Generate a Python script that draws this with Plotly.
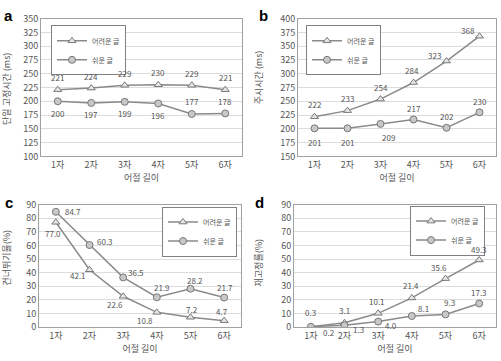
import plotly.graph_objects as go

categories = ["1자", "2자", "3자", "4자", "5자", "6자"]
series_names = ["어려운 글", "쉬운 글"]

a_hard = [221, 224, 229, 230, 229, 221]
a_easy = [200, 197, 199, 196, 177, 178]
b_hard = [222, 233, 254, 284, 323, 368]
b_easy = [201, 201, 209, 217, 202, 230]
c_hard = [77.0, 42.1, 22.6, 10.8, 7.2, 4.7]
c_easy = [84.7, 60.3, 36.5, 21.9, 28.2, 21.7]
d_hard = [0.3, 3.1, 10.1, 21.4, 35.6, 49.3]
d_easy = [0.2, 1.3, 4.0, 8.1, 9.3, 17.3]

panel_letters = ["a", "b", "c", "d"]
y_titles = ["단일 고정시간 (ms)", "주시시간 (ms)", "건너뛰기율(%)", "재고정률(%)"]
x_title = "어절 길이"
y_ranges = [(100, 350, 25), (150, 400, 25), (0, 90, 10), (0, 90, 10)]
decimals = [0, 0, 1, 1]

# label offsets in pixels (style)
off_a_hard = [(0, 12)] * 6
off_a_easy = [(0, -12), (0, -12), (0, -12), (0, -12), (0, 12), (0, 12)]
off_b_hard = [(0, 12), (0, 12), (0, 12), (-2, 12), (-12, 6), (-12, 6)]
off_b_easy = [(0, -14), (0, -14), (8, -14), (0, 11), (0, 11), (0, 11)]
off_c_hard = [(-3, -11), (-12, -6), (-8, -8), (-12, -8), (1, 8), (-2, 9)]
off_c_easy = [(17, 0), (15, 4), (13, 5), (5, 10), (4, 8), (1, 10)]
off_d_hard = [(0, 14), (0, 12), (-1, 12), (-1, 12), (-7, 11), (0, 10)]
off_d_easy = [(18, -6), (14, -4), (13, -4), (12, 8), (4, 12), (0, 11)]

panels = [
    (a_hard, a_easy, off_a_hard, off_a_easy),
    (b_hard, b_easy, off_b_hard, off_b_easy),
    (c_hard, c_easy, off_c_hard, off_c_easy),
    (d_hard, d_easy, off_d_hard, off_d_easy),
]

W, H = 501, 361
# plot boxes in pixels (left, right, top, bottom)
boxes = [(41, 242, 12, 155), (298, 496, 12, 155), (39, 241, 205, 332), (294, 496, 205, 332)]
legend_pos = [(51, 19, "left"), (306, 19, "left"), (237, 207, "right"), (485, 206, "right")]
letter_pos = [(2, 9), (257, 9), (3, 203), (253, 203)]
ytitle_pos = [(7, 85), (258, 73), (7, 260), (258, 265)]

LINE = "#8a8a8a"
TXT = "#555555"
FONT = "Noto Sans CJK KR, Liberation Sans, sans-serif"

fig = go.Figure()
layout = dict(
    width=W, height=H, margin=dict(l=0, r=0, t=0, b=0),
    paper_bgcolor="white", plot_bgcolor="white",
    font=dict(family=FONT, size=9, color=TXT),
)
annotations = []

for i, (hard, easy, oh, oe) in enumerate(panels):
    n = "" if i == 0 else str(i + 1)
    xa, ya = "x" + n, "y" + n
    lg = "legend" + n
    l, r, t, b = boxes[i]
    lo, hi, dt = y_ranges[i]
    layout["xaxis" + n] = dict(
        domain=[l / W, r / W], anchor=ya, type="category",
        categoryorder="array", categoryarray=categories,
        range=[-0.5, 5.5], showline=True, mirror=True, linecolor="#a0a0a0",
        linewidth=1, showgrid=False, ticks="", tickfont=dict(size=9, color=TXT),
        title=dict(text=x_title, font=dict(size=9, color=TXT), standoff=1),
    )
    layout["yaxis" + n] = dict(
        domain=[1 - b / H, 1 - t / H], anchor=xa, range=[lo, hi], dtick=dt,
        tick0=lo, showline=True, mirror=True, linecolor="#a0a0a0", linewidth=1,
        showgrid=True, gridcolor="#dcdcdc", gridwidth=1, zeroline=False,
        ticks="", tickfont=dict(size=9, color=TXT),
    )
    lx, ly, anc = legend_pos[i]
    layout[lg] = dict(
        x=lx / W, y=1 - ly / H, xanchor=anc, yanchor="top",
        bgcolor="white", bordercolor="#808080", borderwidth=1,
        font=dict(size=7, color=TXT), itemwidth=30, tracegroupgap=0,
    )
    fig.add_trace(go.Scatter(
        x=categories, y=hard, name=series_names[0], mode="lines+markers",
        xaxis=xa, yaxis=ya, legend=lg,
        line=dict(color=LINE, width=1.5),
        marker=dict(symbol="triangle-up", size=7, color="#e6e6e6",
                    line=dict(color="#777777", width=1)),
    ))
    fig.add_trace(go.Scatter(
        x=categories, y=easy, name=series_names[1], mode="lines+markers",
        xaxis=xa, yaxis=ya, legend=lg,
        line=dict(color=LINE, width=1.5),
        marker=dict(symbol="circle", size=7, color="#c8c8c8",
                    line=dict(color="#777777", width=1)),
    ))
    for vals, offs in ((hard, oh), (easy, oe)):
        for c, v, (dx, dy) in zip(categories, vals, offs):
            annotations.append(dict(
                x=c, y=v, xref=xa, yref=ya, showarrow=False,
                text=f"{v:.{decimals[i]}f}", xshift=dx, yshift=dy,
                font=dict(size=8, color=TXT),
            ))
    px, py = letter_pos[i]
    annotations.append(dict(
        x=px / W, y=1 - py / H, xref="paper", yref="paper", showarrow=False,
        text="<b>" + panel_letters[i] + "</b>", xanchor="left", yanchor="middle",
        font=dict(size=15, color="black", family="Liberation Sans, Arial"),
    ))
    tx, ty = ytitle_pos[i]
    annotations.append(dict(
        x=tx / W, y=1 - ty / H, xref="paper", yref="paper", showarrow=False,
        text=y_titles[i], textangle=-90, xanchor="center", yanchor="middle",
        font=dict(size=9, color=TXT),
    ))

layout["annotations"] = annotations
layout["showlegend"] = True
fig.update_layout(**layout)
fig.write_html("out.html")
